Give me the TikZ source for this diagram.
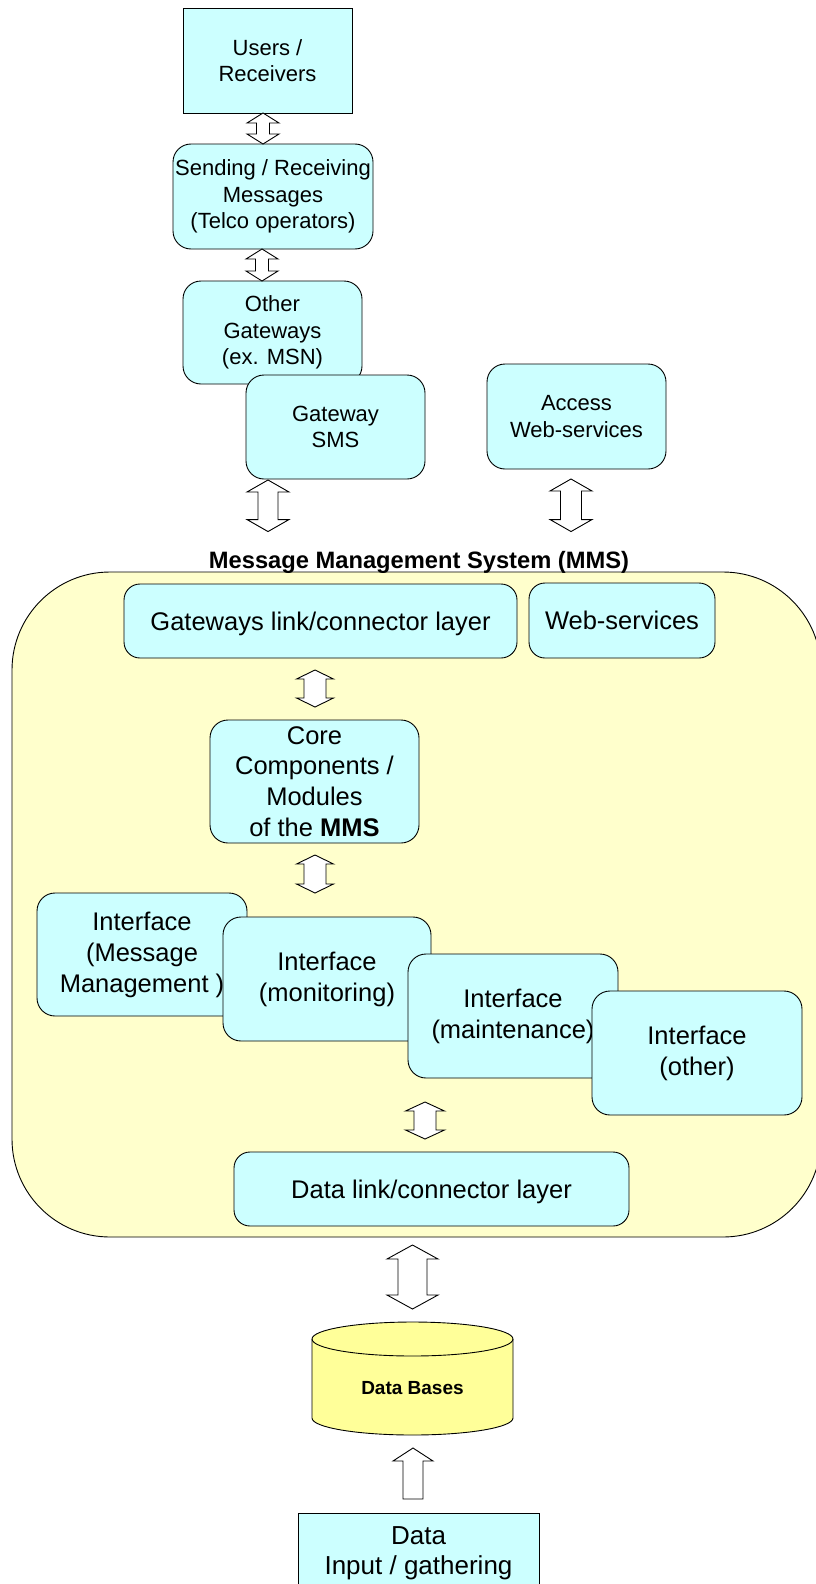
\documentclass[tikz,border=0pt]{standalone}
\usepackage{fontspec}
\setmainfont{Liberation Sans}
\usetikzlibrary{calc}
\definecolor{boxcyan}{RGB}{204,255,255}
\definecolor{mmsyellow}{RGB}{255,255,204}
\definecolor{dbyellow}{RGB}{255,255,153}
% double block arrow: #1 top end, #2 bottom end, #3 head half width, #4 shaft half width, #5 head length
\newcommand\mmsdblarrow[5]{%
  \draw[blockarrow] let \p1=(#1), \p2=(#2) in
    (\x1,\y1) -- (\x1+#3pt,\y1-#5pt) -- (\x1+#4pt,\y1-#5pt) -- (\x1+#4pt,\y2+#5pt)
    -- (\x1+#3pt,\y2+#5pt) -- (\x1,\y2) -- (\x1-#3pt,\y2+#5pt) -- (\x1-#4pt,\y2+#5pt)
    -- (\x1-#4pt,\y1-#5pt) -- (\x1-#3pt,\y1-#5pt) -- cycle;}
% single block arrow pointing up: #1 tip, #2 tail
\newcommand\mmsuparrow[5]{%
  \draw[blockarrow] let \p1=(#1), \p2=(#2) in
    (\x1,\y1) -- (\x1+#3pt,\y1-#5pt) -- (\x1+#4pt,\y1-#5pt) -- (\x1+#4pt,\y2)
    -- (\x1-#4pt,\y2) -- (\x1-#4pt,\y1-#5pt) -- (\x1-#3pt,\y1-#5pt) -- cycle;}
\begin{document}
\begin{tikzpicture}[x=1pt,y=-1pt,
  box/.style={draw=black, line width=0.9pt, fill=boxcyan, align=center, inner sep=0pt, outer sep=0pt},
  rbox/.style={box, rounded corners=18pt},
  smallfont/.style={font=\fontsize{22}{26.5}\selectfont},
  bigfont/.style={font=\fontsize{25.5}{31}\selectfont},
  blockarrow/.style={draw=black, line width=0.9pt, fill=white, line join=miter}]
\useasboundingbox (0,0) rectangle (816,1584);
\clip (0,0) rectangle (816,1584);
\fill[white] (0,0) rectangle (816,1584);

% top chain
\node[box, smallfont, minimum width=169pt, minimum height=105pt] (users) at (267.5,60.5) {Users /\\Receivers};
\node[rbox, smallfont, minimum width=200pt, minimum height=105pt] (send) at (273,196.5) {Sending / Receiving\\Messages\\(Telco operators)};
\node[rbox, smallfont, minimum width=179pt, minimum height=103pt] (other) at (272.5,332.5) {Other\\Gateways\\(ex. MSN)};
\node[rbox, smallfont, minimum width=179pt, minimum height=104pt] (sms) at (335.5,427) {Gateway\\SMS};
\node[rbox, smallfont, minimum width=179pt, minimum height=105pt] (access) at (576.5,416.5) {Access\\Web-services};

\mmsdblarrow{$(users.south)+(-4.5,0)$}{$(send.north)+(-10,0)$}{16}{6.5}{10}
\mmsdblarrow{$(send.south)+(-11,0)$}{$(other.north)+(-10.5,0)$}{16}{6.5}{10}

% MMS container
\node[draw=black, line width=0.9pt, fill=mmsyellow, rounded corners=98pt, minimum width=809pt, minimum height=665pt, inner sep=0pt] (mms) at (416.5,904.5) {};
\node[font=\bfseries\fontsize{23.7}{28}\selectfont, inner sep=0pt] (title) at (419,562) {Message Management System (MMS)};

\mmsdblarrow{$(sms.south)+(-67.5,1)$}{$(mms.north)+(-148.5,-40)$}{21}{10}{12}
\mmsdblarrow{$(access.south)+(-5.5,10)$}{$(mms.north)+(154.5,-40)$}{21}{10.5}{12}

\node[rbox, bigfont, rounded corners=16pt, minimum width=393pt, minimum height=74pt, text depth=0pt, yshift=0pt] (gw) at (320.5,621) {Gateways link/connector layer};
\node[rbox, bigfont, rounded corners=16pt, minimum width=186pt, minimum height=75pt] (ws) at (622,620.5) {Web-services};
\node[rbox, bigfont, font=\fontsize{25.5}{30.6}\selectfont, minimum width=209pt, minimum height=123pt] (core) at (314.5,781.5) {Core\\Components /\\Modules\\of the \textbf{MMS}};

\mmsdblarrow{$(gw.south)+(-5.5,12)$}{$(core.north)+(0.5,-13)$}{18.5}{11}{9}

\node[rbox, bigfont, minimum width=210pt, minimum height=123pt] (ifmm) at (142,954.5) {Interface\\(Message\\Management )};
\node[rbox, bigfont, minimum width=208pt, minimum height=124pt] (ifmon) at (327,979) {Interface\\(monitoring)};
\node[rbox, bigfont, minimum width=210pt, minimum height=124pt] (ifmai) at (513,1016) {Interface\\(maintenance)};
\node[rbox, bigfont, minimum width=210pt, minimum height=124pt] (ifoth) at (697,1053) {Interface\\(other)};

\mmsdblarrow{$(core.south)+(0.5,12)$}{$(ifmm.north)+(173,0)$}{18.5}{11}{9}

\node[rbox, bigfont, rounded corners=16pt, minimum width=395pt, minimum height=74pt, text depth=0pt] (datalink) at (431.5,1189) {Data link/connector layer};

\mmsdblarrow{$(ifmai.south)+(-88,24)$}{$(datalink.north)+(-6.5,-13)$}{19.5}{11}{9}

% data bases cylinder
\coordinate (dbtop) at (412.5,1322);
\coordinate (dbbot) at (412.5,1435);
\draw[fill=dbyellow, line width=0.9pt] (312,1339) -- (312,1418)
  arc[start angle=180, end angle=0, x radius=100.5, y radius=17] -- (513,1339)
  arc[start angle=0, end angle=-180, x radius=100.5, y radius=17] -- cycle;
\draw[line width=0.9pt] (312,1339) arc[start angle=180, end angle=0, x radius=100.5, y radius=17];
\node[font=\bfseries\fontsize{19}{23}\selectfont, inner sep=0pt] (db) at (412.5,1388) {Data Bases};

\mmsdblarrow{$(datalink.south)+(-19,19)$}{$(dbtop)+(0,-13)$}{25.5}{14.5}{14}

\node[box, font=\fontsize{26}{30}\selectfont, minimum width=241pt, minimum height=79pt] (input) at (418.5,1553) {Data\\Input / gathering};

\mmsuparrow{$(dbbot)+(0.5,13)$}{$(input.north)+(-5.5,-14.5)$}{20}{10}{13}
\end{tikzpicture}
\end{document}
